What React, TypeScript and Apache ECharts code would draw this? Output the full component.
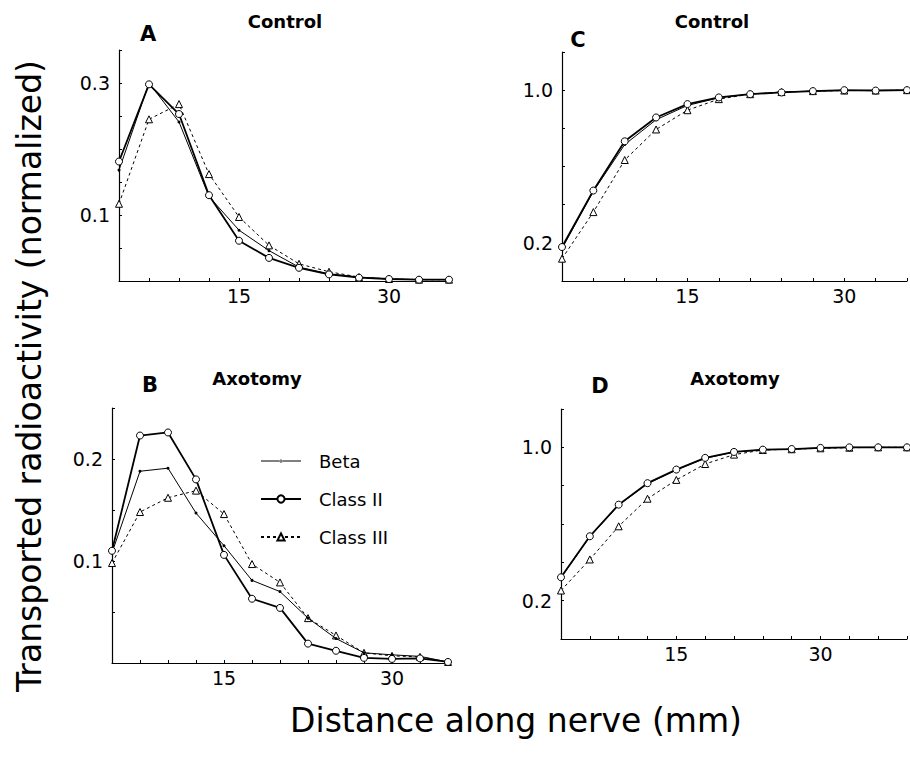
import React, { useEffect, useRef } from "react";
import * as echarts from "echarts";

// ---- Data ----
// Panel A (Control, distribution)
const xA = [3, 6, 9, 12, 15, 18, 21, 24, 27, 30, 33, 36];
const betaA = [0.168, 0.3, 0.241, 0.128, 0.077, 0.046, 0.021, 0.011, 0.006, 0.003, 0.002, 0.002];
const class2A = [0.181, 0.298, 0.253, 0.13, 0.061, 0.035, 0.02, 0.01, 0.005, 0.003, 0.002, 0.002];
const class3A = [0.117, 0.245, 0.268, 0.162, 0.097, 0.054, 0.026, 0.014, 0.006, 0.003, 0.002, 0.002];

// Panel B (Axotomy, distribution)
const xB = [5, 7.5, 10, 12.5, 15, 17.5, 20, 22.5, 25, 27.5, 30, 32.5, 35];
const betaB = [0.108, 0.188, 0.191, 0.147, 0.115, 0.081, 0.07, 0.044, 0.024, 0.01, 0.008, 0.0065, 0.001];
const class2B = [0.11, 0.223, 0.226, 0.18, 0.106, 0.063, 0.054, 0.019, 0.012, 0.005, 0.004, 0.0045, 0.001];
const class3B = [0.098, 0.148, 0.162, 0.169, 0.146, 0.097, 0.079, 0.044, 0.027, 0.01, 0.007, 0.006, 0.001];

// Panel C (Control, cumulative)
const xC = [3, 6, 9, 12, 15, 18, 21, 24, 27, 30, 33, 36];
const betaC = [0.17, 0.47, 0.715, 0.845, 0.92, 0.96, 0.98, 0.99, 0.995, 0.998, 1.0, 1.0];
const class2C = [0.178, 0.474, 0.732, 0.857, 0.927, 0.962, 0.979, 0.988, 0.995, 1.0, 0.998, 1.0];
const class3C = [0.117, 0.361, 0.634, 0.794, 0.895, 0.953, 0.979, 0.99, 0.995, 0.998, 0.998, 1.0];

// Panel D (Axotomy, cumulative)
const xD = [3, 6, 9, 12, 15, 18, 21, 24, 27, 30, 33, 36, 39];
const betaD = [0.32, 0.533, 0.698, 0.81, 0.882, 0.943, 0.975, 0.987, 0.991, 0.997, 1.0, 1.0, 1.0];
const class2D = [0.322, 0.536, 0.701, 0.813, 0.884, 0.945, 0.976, 0.988, 0.991, 0.997, 1.0, 1.0, 1.0];
const class3D = [0.253, 0.415, 0.588, 0.732, 0.83, 0.913, 0.962, 0.986, 0.99, 0.995, 0.998, 1.0, 1.0];

const xLabelsShown = [15, 30];
const yLabelsA = [0.1, 0.3];
const yLabelsB = [0.1, 0.2];
const yLabelsCD = [0.2, 1.0];

const seriesNames = ["Beta", "Class II", "Class III"];

const FONT = "'DejaVu Sans', 'Liberation Sans', Arial, sans-serif";

function zip(xs: number[], ys: number[]) {
  return xs.map((x, i) => [x, ys[i]]);
}

function xAxisCfg(grid: number, min: number, max: number, interval: number) {
  return {
    type: "value",
    gridIndex: grid,
    min,
    max,
    interval,
    axisLine: { show: true, lineStyle: { color: "#000", width: 1.2 } },
    axisTick: { show: true, inside: true, length: 3, lineStyle: { color: "#000", width: 1 } },
    axisLabel: {
      color: "#000",
      fontSize: 19,
      fontFamily: FONT,
      margin: 5,
      formatter: (v: number) =>
        xLabelsShown.some((s) => Math.abs(s - v) < 1e-6) ? String(v) : "",
    },
    splitLine: { show: false },
  };
}

function yAxisCfg(grid: number, max: number, interval: number, shown: number[]) {
  return {
    type: "value",
    gridIndex: grid,
    min: 0,
    max,
    interval,
    axisLine: { show: true, lineStyle: { color: "#000", width: 1.2 } },
    axisTick: { show: true, inside: true, length: 3, lineStyle: { color: "#000", width: 1 } },
    axisLabel: {
      color: "#000",
      fontSize: 19,
      fontFamily: FONT,
      margin: 9,
      formatter: (v: number) =>
        shown.some((s) => Math.abs(s - v) < 1e-6) ? v.toFixed(1) : "",
    },
    splitLine: { show: false },
  };
}

function seriesFor(grid: number, xs: number[], beta: number[], c2: number[], c3: number[]) {
  return [
    {
      name: seriesNames[0],
      type: "line",
      xAxisIndex: grid,
      yAxisIndex: grid,
      data: zip(xs, beta),
      symbol: "circle",
      symbolSize: 3,
      itemStyle: { color: "#000" },
      lineStyle: { color: "#000", width: 1, type: "solid" },
      z: 3,
    },
    {
      name: seriesNames[1],
      type: "line",
      xAxisIndex: grid,
      yAxisIndex: grid,
      data: zip(xs, c2),
      symbol: "circle",
      symbolSize: 7,
      itemStyle: { color: "#fff", borderColor: "#000", borderWidth: 1 },
      lineStyle: { color: "#000", width: 1.8, type: "solid" },
      z: 4,
    },
    {
      name: seriesNames[2],
      type: "line",
      xAxisIndex: grid,
      yAxisIndex: grid,
      data: zip(xs, c3),
      symbol: "triangle",
      symbolSize: 7,
      itemStyle: { color: "#fff", borderColor: "#000", borderWidth: 1 },
      lineStyle: { color: "#000", width: 1, type: [3, 3] },
      z: 2,
    },
  ];
}

function txt(text: string, x: number, y: number, size: number, weight: string = "normal", rotation = 0) {
  return {
    type: "text",
    x,
    y,
    rotation,
    style: {
      text,
      fill: "#000",
      font: `${weight} ${size}px ${FONT}`,
      align: "center",
      verticalAlign: "middle",
    },
  };
}

const BETA_ICON =
  "path://M0,4L40,4L40,5L0,5Z M18.4,4.5a1.6,1.6 0 1,0 3.2,0a1.6,1.6 0 1,0 -3.2,0Z";

export default function App() {
  const ref = useRef<HTMLDivElement>(null);

  useEffect(() => {
    if (!ref.current) return;
    const chart = echarts.init(ref.current, undefined, { renderer: "svg" });
    const option = {
      animation: false,
      backgroundColor: "#fff",
      grid: [
        { left: 119, top: 50, width: 330, height: 231 },
        { left: 112, top: 408, width: 336, height: 255 },
        { left: 562, top: 52, width: 347, height: 229 },
        { left: 561, top: 409, width: 348, height: 230 },
      ],
      xAxis: [
        xAxisCfg(0, 3, 36, 3),
        xAxisCfg(1, 5, 35, 2.5),
        xAxisCfg(2, 3, 36, 3),
        xAxisCfg(3, 3, 39, 3),
      ],
      yAxis: [
        yAxisCfg(0, 0.35, 0.05, yLabelsA),
        yAxisCfg(1, 0.25, 0.05, yLabelsB),
        yAxisCfg(2, 1.2, 0.2, yLabelsCD),
        yAxisCfg(3, 1.2, 0.2, yLabelsCD),
      ],
      legend: {
        show: true,
        orient: "vertical",
        left: 255,
        top: 447,
        itemWidth: 40,
        itemHeight: 9,
        itemGap: 20,
        data: [
          { name: seriesNames[0], icon: BETA_ICON, itemStyle: { color: "#000", borderWidth: 0 } },
          { name: seriesNames[1] },
          { name: seriesNames[2] },
        ],
        textStyle: {
          color: "#000",
          fontSize: 18,
          fontFamily: FONT,
          padding: [0, 0, 0, 13],
        },
      },
      series: [
        ...seriesFor(0, xA, betaA, class2A, class3A),
        ...seriesFor(1, xB, betaB, class2B, class3B),
        ...seriesFor(2, xC, betaC, class2C, class3C),
        ...seriesFor(3, xD, betaD, class2D, class3D),
      ],
      graphic: [
        txt("A", 148, 34, 21, "bold"),
        txt("Control", 285, 21, 18, "bold"),
        txt("B", 150, 385, 21, "bold"),
        txt("Axotomy", 257, 378, 18, "bold"),
        txt("C", 578, 40, 21, "bold"),
        txt("Control", 712, 21, 18, "bold"),
        txt("D", 600, 386, 21, "bold"),
        txt("Axotomy", 735, 378, 18, "bold"),
        txt("Transported radioactivity (normalized)", 29, 376, 33, "normal", Math.PI / 2),
        txt("Distance along nerve (mm)", 516, 720, 33, "normal"),
      ],
    };
    chart.setOption(option as any);
    return () => chart.dispose();
  }, []);

  return (
    <div
      ref={ref}
      style={{ position: "fixed", left: 0, top: 0, width: 910, height: 761, background: "#fff" }}
    />
  );
}
